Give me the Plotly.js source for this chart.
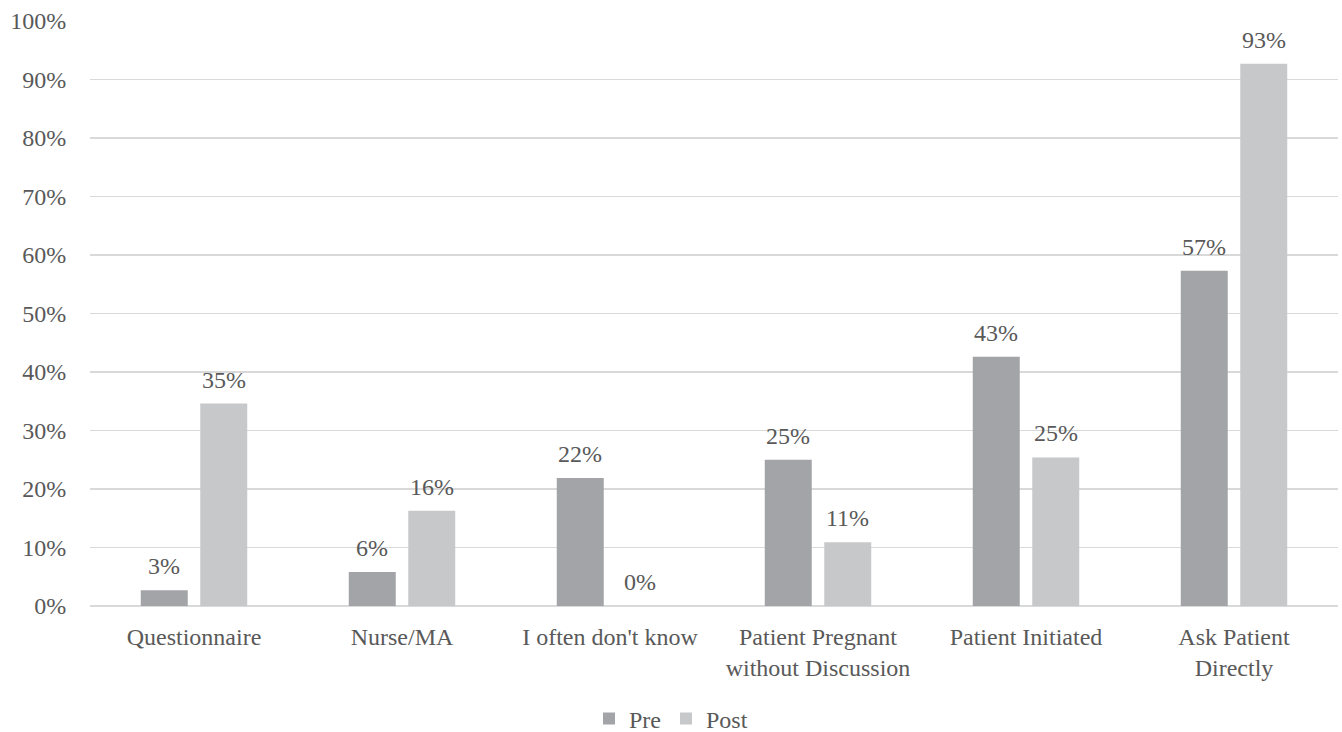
<!DOCTYPE html>
<html>
<head>
<meta charset="utf-8">
<script src="https://cdn.plot.ly/plotly-3.0.1.min.js"></script>
<style>html,body{margin:0;padding:0;background:#fff;}#chart{width:1342px;height:732px;}</style>
</head>
<body>
<div id="chart"></div>
<script>
const categories = ["Questionnaire", "Nurse/MA", "I often don't know", "Patient Pregnant<br>without Discussion", "Patient Initiated", "Ask Patient<br>Directly"];
const preValues = [0.027, 0.058, 0.219, 0.250, 0.426, 0.573];
const postValues = [0.346, 0.163, 0.000, 0.109, 0.254, 0.927];
const yTickVals = [0, 0.1, 0.2, 0.3, 0.4, 0.5, 0.6, 0.7, 0.8, 0.9, 1.0];

const FONT = "Times New Roman, Liberation Serif, DejaVu Serif, serif";
const FS = 24;
const TXT = "#595959";
const PRE_COLOR = "#a3a4a7";
const POST_COLOR = "#c7c8ca";
const BARGAP = 0.428;
const xs = categories.map((c, i) => i);
const off = (1 - BARGAP) / 4;

const traces = [
  {type: "bar", name: "Pre", x: xs, y: preValues, marker: {color: PRE_COLOR}, hoverinfo: "none"},
  {type: "bar", name: "Post", x: xs, y: postValues, marker: {color: POST_COLOR}, hoverinfo: "none"}
];

const fmt = v => Math.round(v * 100) + "%";
const annotations = [];
xs.forEach((x, i) => {
  annotations.push({x: x - off, y: preValues[i], xref: "x", yref: "y", text: fmt(preValues[i]), showarrow: false, yanchor: "bottom", yshift: 9, font: {family: FONT, size: FS, color: TXT}});
  annotations.push({x: x + off, y: postValues[i], xref: "x", yref: "y", text: fmt(postValues[i]), showarrow: false, yanchor: "bottom", yshift: 9, font: {family: FONT, size: FS, color: TXT}});
});

const layout = {
  width: 1342, height: 732,
  margin: {l: 90, r: 4, t: 21, b: 126, autoexpand: false},
  paper_bgcolor: "#ffffff", plot_bgcolor: "#ffffff",
  font: {family: FONT, size: FS, color: TXT},
  barmode: "group", bargap: BARGAP, bargroupgap: 0.21,
  showlegend: true,
  legend: {orientation: "h", xref: "container", yref: "container", x: 0.5, xanchor: "center", y: 0.018, yanchor: "middle", font: {family: FONT, size: FS, color: TXT}, itemwidth: 30},
  xaxis: {type: "linear", range: [-0.5, 5.5], tickvals: xs, ticktext: categories, tickangle: 0, automargin: false, showgrid: false, zeroline: false, showline: false, ticks: "outside", ticklen: 9, tickcolor: "rgba(0,0,0,0)", tickfont: {family: FONT, size: FS, color: TXT}, fixedrange: true},
  yaxis: {range: [0, 1], tickvals: yTickVals, tickformat: ".0%", automargin: false, showgrid: true, gridcolor: "#d9d9d9", gridwidth: 1.3, zeroline: true, zerolinecolor: "#d9d9d9", zerolinewidth: 1.5, showline: false, ticks: "outside", ticklen: 18, tickcolor: "rgba(0,0,0,0)", tickfont: {family: FONT, size: FS, color: TXT}, fixedrange: true},
  annotations: annotations
};

Plotly.newPlot("chart", traces, layout, {displayModeBar: false, staticPlot: true});
</script>
</body>
</html>
